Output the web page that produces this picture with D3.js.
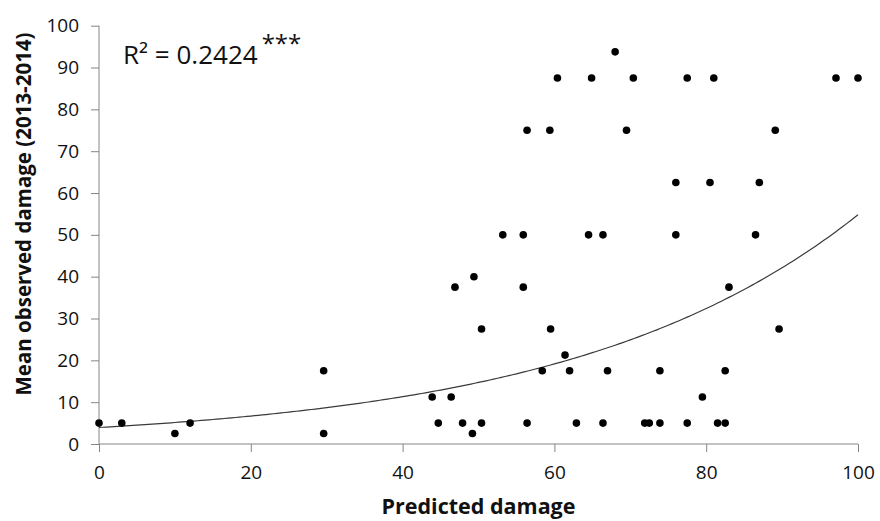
<!DOCTYPE html>
<html>
<head>
<meta charset="utf-8">
<script src="https://cdn.jsdelivr.net/npm/d3@7"></script>
<style>
  body { margin: 0; background: #fff; }
  .axis path, .axis line { stroke: #868686; }
  .axis text { font-family: "Open Sans", sans-serif; font-size: 19px; fill: #111; }
  .title { font-family: "Open Sans", sans-serif; font-weight: bold; fill: #111; }
</style>
</head>
<body>
<div class="chart"></div>
<script>
var svgWidth = 880;
var svgHeight = 521;

var margin = { top: 25.7, right: 22, bottom: 77, left: 99 };
var width = svgWidth - margin.left - margin.right;
var height = svgHeight - margin.top - margin.bottom;

// predicted damage (x) and mean observed damage (y)
var predicted = [0, 3, 10, 12, 29.6, 29.6, 43.9, 44.7, 46.4, 46.9, 47.9, 49.2, 49.4, 50.4, 50.4,
  53.2, 55.9, 55.9, 56.4, 56.4, 58.4, 59.4, 59.5, 60.4, 61.4, 62, 62.9, 64.5, 64.9, 66.4,
  66.4, 67, 68, 69.5, 70.4, 71.9, 72.5, 73.9, 73.9, 76, 76, 77.5, 77.5, 79.5, 80.5,
  81, 81.5, 82.5, 82.5, 83, 86.5, 87, 89.1, 89.6, 97.1, 100];
var observed = [5, 5, 2.5, 5, 17.5, 2.5, 11.25, 5, 11.25, 37.5, 5, 2.5, 40, 27.5, 5,
  50, 50, 37.5, 75, 5, 17.5, 75, 27.5, 87.5, 21.25, 17.5, 5, 50, 87.5, 50,
  5, 17.5, 93.75, 75, 87.5, 5, 5, 17.5, 5, 62.5, 50, 87.5, 5, 11.25, 62.5,
  87.5, 5, 17.5, 5, 37.5, 50, 62.5, 75, 27.5, 87.5, 87.5];

var xTicks = [0, 20, 40, 60, 80, 100];
var yTicks = [0, 10, 20, 30, 40, 50, 60, 70, 80, 90, 100];

// exponential trend line y = a * exp(b * x)
var trendA = 3.95;
var trendB = 0.0263;
var rSquared = "0.2424";

var points = predicted.map(function(d, i) { return { x: d, y: observed[i] }; });

var svg = d3.select(".chart")
  .append("svg")
  .attr("width", svgWidth)
  .attr("height", svgHeight);

var chartGroup = svg.append("g")
  .attr("transform", `translate(${margin.left}, ${margin.top})`);

var xLinearScale = d3.scaleLinear().domain([0, 100]).range([0, width]);
var yLinearScale = d3.scaleLinear().domain([0, 100]).range([height, 0]);

var bottomAxis = d3.axisBottom(xLinearScale).tickValues(xTicks).tickSize(8).tickPadding(14);
var leftAxis = d3.axisLeft(yLinearScale).tickValues(yTicks).tickSize(8).tickPadding(12);

chartGroup.append("g")
  .attr("class", "axis")
  .attr("transform", `translate(0, ${height})`)
  .call(bottomAxis)
  .call(g => g.select(".domain").attr("d", `M0,0H${width}`));

chartGroup.append("g")
  .attr("class", "axis")
  .call(leftAxis)
  .call(g => g.select(".domain").attr("d", `M0,${height}V0`));

// trend curve
var curveX = d3.range(0, 100.5, 0.5);
var line = d3.line()
  .x(d => xLinearScale(d))
  .y(d => yLinearScale(trendA * Math.exp(trendB * d)));

chartGroup.append("path")
  .datum(curveX)
  .attr("d", line)
  .attr("fill", "none")
  .attr("stroke", "#3a3a3a")
  .attr("stroke-width", 1.2);

chartGroup.selectAll("circle")
  .data(points)
  .enter()
  .append("circle")
  .attr("cx", d => xLinearScale(d.x))
  .attr("cy", d => yLinearScale(d.y))
  .attr("r", 3.8)
  .attr("fill", "#000");

// R squared label
var r2 = svg.append("text")
  .attr("x", 123)
  .attr("y", 64)
  .attr("font-family", "Open Sans, sans-serif")
  .attr("font-size", "26px")
  .attr("fill", "#111");
r2.append("tspan").text("R² = " + rSquared);
r2.append("tspan").attr("dy", -12).attr("dx", 4).attr("font-size", "24px").text("***");

// axis titles
svg.append("text")
  .attr("class", "title")
  .attr("x", margin.left + width / 2)
  .attr("y", 514)
  .attr("text-anchor", "middle")
  .attr("font-size", "21.5px")
  .text("Predicted damage");

svg.append("text")
  .attr("class", "title")
  .attr("transform", "rotate(-90)")
  .attr("x", -214)
  .attr("y", 31)
  .attr("text-anchor", "middle")
  .attr("font-size", "20.5px")
  .text("Mean observed damage (2013-2014)");
</script>
</body>
</html>
